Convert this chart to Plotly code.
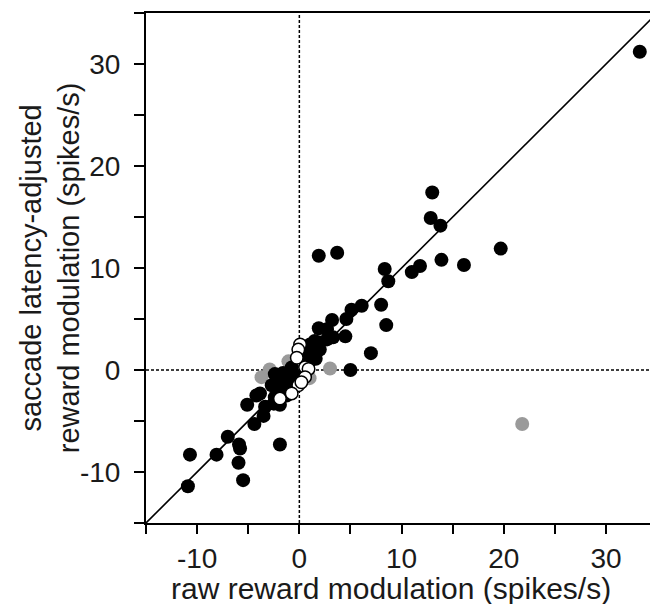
import plotly.graph_objects as go

# filled black points (raw, adjusted)
black_x = [33.3, 13.0, 12.85, 13.8, 19.7, 13.9, 16.1, 11.8, 11.0, 8.35, 8.7, 8.0, 6.1, 5.1, 4.6, 3.2,
           8.5, 7.0, 5.0, 1.9, 3.7, 1.9, 2.7, 4.5, 3.3, 2.0, 1.05, 1.2, 2.0, 2.7, 1.5, 1.05, 0.8,
           -10.9, -10.7, -8.1, -7.0, -5.9, -5.8, -5.95, -5.5, -1.9, -5.1, -4.2, -4.4, -3.5, -3.35,
           -2.5, -1.9, -3.85, -2.4, -1.25, -2.7, -1.9, -1.4, -1.05, -2.4, -0.75, -0.6, -1.6,
           -0.9, -0.3, 1.6, -2.0]
black_y = [31.2, 17.4, 14.9, 14.15, 11.9, 10.8, 10.3, 10.2, 9.6, 9.9, 8.7, 6.4, 6.3, 5.9, 5.0, 4.9,
           4.4, 1.65, 0.0, 11.2, 11.5, 4.1, 4.0, 3.3, 3.2, 2.7, 2.5, 1.6, 2.0, 3.0, 2.85, 0.9, 1.5,
           -11.4, -8.3, -8.3, -6.55, -7.3, -7.7, -9.1, -10.8, -7.3, -3.4, -2.5, -5.3, -4.5, -3.6,
           -3.3, -3.4, -2.3, -2.66, -2.5, -1.5, -1.0, -1.35, -0.4, -0.4, 0.25, -1.6, -0.3,
           -1.9, -0.7, 1.1, -2.0]

# open circles
open_x = [0.07, -0.1, -0.25, 0.56, 0.9, 0.56, -0.1, 0.2, -0.75, -1.9]
open_y = [2.5, 2.0, 1.2, 0.26, 0.1, -0.7, -1.5, -1.2, -2.3, -2.8]

# gray points
gray_x = [-3.7, -2.9, -1.07, 1.0, 3.0, 21.8]
gray_y = [-0.7, 0.05, 0.85, -0.8, 0.15, -5.3]

x_ticks = [-15, -10, -5, 0, 5, 10, 15, 20, 25, 30]
x_ticktext = ["", "-10", "", "0", "", "10", "", "20", "", "30"]
y_ticks = [-15, -10, -5, 0, 5, 10, 15, 20, 25, 30, 35]
y_ticktext = ["", "-10", "", "0", "", "10", "", "20", "", "30", ""]

FONT = "Liberation Sans, Arial, sans-serif"
TXT = "#1a1a1a"

fig = go.Figure()
# identity line
fig.add_trace(go.Scatter(x=[-15, 35], y=[-15, 35], mode="lines",
                         line=dict(color="black", width=1.6), hoverinfo="skip", showlegend=False))
# zero lines
fig.add_trace(go.Scatter(x=[0, 0], y=[-15, 35], mode="lines",
                         line=dict(color="black", width=1.5, dash="3px,2px"), showlegend=False))
fig.add_trace(go.Scatter(x=[-15, 35], y=[0, 0], mode="lines",
                         line=dict(color="black", width=1.5, dash="3px,2px"), showlegend=False))

fig.add_trace(go.Scatter(x=gray_x, y=gray_y, mode="markers",
                         marker=dict(size=14, color="#9a9a9a", line=dict(width=0)), showlegend=False))
fig.add_trace(go.Scatter(x=black_x, y=black_y, mode="markers",
                         marker=dict(size=14, color="black", line=dict(width=0)), showlegend=False))
fig.add_trace(go.Scatter(x=open_x, y=open_y, mode="markers",
                         marker=dict(size=12.5, color="white", line=dict(width=1.5, color="black")),
                         showlegend=False))

fig.update_layout(
    width=650, height=604,
    margin=dict(l=146, r=0, t=13, b=81),
    paper_bgcolor="white", plot_bgcolor="white",
    font=dict(family=FONT, color=TXT),
    xaxis=dict(range=[-15, 34.3], tickmode="array", tickvals=x_ticks, ticktext=x_ticktext,
               ticks="outside", ticklen=9, tickwidth=1.5, tickcolor="black",
               showline=True, linecolor="black", linewidth=2, mirror=True,
               showgrid=False, zeroline=False, tickfont=dict(size=28), automargin=False),
    yaxis=dict(range=[-15, 35], tickmode="array", tickvals=y_ticks, ticktext=y_ticktext,
               ticks="outside", ticklen=10, tickwidth=1.5, tickcolor="black",
               showline=True, linecolor="black", linewidth=2, mirror=False,
               showgrid=False, zeroline=False, tickfont=dict(size=28), automargin=False,
               ticklabelstandoff=8),
    annotations=[
        dict(text="saccade latency-adjusted<br>reward modulation (spikes/s)",
             xref="paper", yref="paper", x=-0.19, y=0.5, xanchor="center", yanchor="middle",
             textangle=-90, showarrow=False, font=dict(size=29, family=FONT, color=TXT)),
        dict(text="raw reward modulation (spikes/s)",
             xref="paper", yref="paper", x=0.486, y=-0.129, xanchor="center", yanchor="middle",
             showarrow=False, font=dict(size=30, family=FONT, color=TXT)),
    ],
)

fig.write_html("out.html", config={"displayModeBar": False},
               post_script="document.body.style.margin='0';document.body.style.overflow='hidden';")
